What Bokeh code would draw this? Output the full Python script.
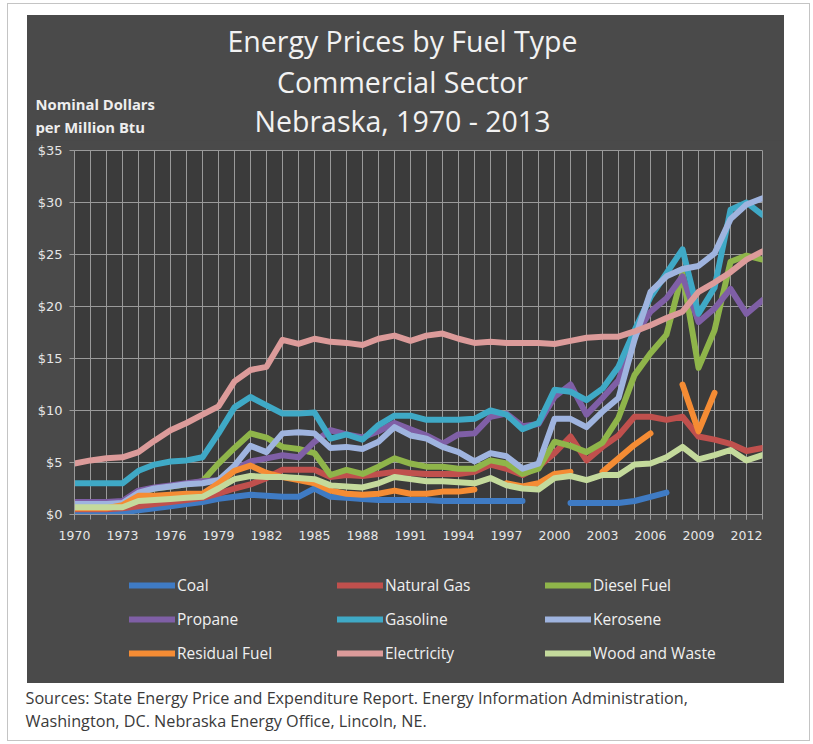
import numpy as np
from bokeh.plotting import figure
from bokeh.layouts import column
from bokeh.models import (ColumnDataSource, FixedTicker, PrintfTickFormatter, Label,
                          Legend, LegendItem)
from bokeh.embed import file_html
from bokeh.resources import INLINE

nan = float("nan")

# ---------------- data ----------------
years = list(range(1970, 2014))
x_tick_years = list(range(1970, 2014, 3))
y_ticks = [0, 5, 10, 15, 20, 25, 30, 35]

series_names = ["Coal", "Natural Gas", "Diesel Fuel", "Propane", "Gasoline",
                "Kerosene", "Residual Fuel", "Electricity", "Wood and Waste"]
series_colors = ["#3f7bc4", "#c0504d", "#8fb54a", "#7f5fa6", "#3fa9c6",
                 "#9fb4df", "#f58c34", "#dc9b9a", "#c4da9c"]

coal = [0.1, 0.1, 0.1, 0.2, 0.4, 0.6, 0.8, 1.0, 1.2, 1.5,
        1.7, 1.9, 1.8, 1.7, 1.7, 2.5, 1.7, 1.6, 1.5, 1.4,
        1.4, 1.4, 1.4, 1.3, 1.3, 1.3, 1.3, 1.3, 1.3, nan,
        nan, 1.1, 1.1, 1.1, 1.1, 1.3, 1.7, 2.1, nan, nan,
        nan, nan, nan, nan]
natural_gas = [0.5, 0.5, 0.5, 0.6, 0.8, 1.0, 1.2, 1.4, 1.6, 2.0,
               2.5, 2.9, 3.5, 4.3, 4.3, 4.3, 3.6, 3.8, 3.7, 3.9,
               4.1, 4.0, 3.9, 3.9, 3.9, 4.1, 4.8, 4.4, 3.8, 4.6,
               5.9, 7.5, 5.2, 6.5, 7.6, 9.4, 9.4, 9.1, 9.4, 7.5,
               7.2, 6.8, 6.1, 6.4]
diesel_fuel = [1.0, 1.0, 1.0, 1.1, 2.1, 2.5, 2.7, 2.9, 3.2, 4.9,
               6.4, 7.8, 7.4, 6.5, 6.3, 5.9, 3.8, 4.3, 3.9, 4.6,
               5.4, 4.9, 4.6, 4.6, 4.4, 4.4, 5.2, 4.9, 3.9, 4.4,
               7.0, 6.6, 6.0, 6.9, 9.3, 13.4, 15.5, 17.3, 23.2, 14.1,
               17.7, 24.3, 24.9, 24.5]
propane = [1.2, 1.2, 1.2, 1.3, 2.3, 2.6, 2.8, 3.0, 3.2, 3.3,
           4.3, 5.1, 5.4, 5.7, 5.5, 7.0, 8.1, 7.7, 7.4, 8.0,
           8.8, 8.2, 7.6, 6.8, 7.7, 7.8, 9.4, 9.7, 8.5, 8.7,
           11.3, 12.5, 9.6, 11.2, 12.9, 17.1, 19.5, 20.8, 22.9, 18.5,
           19.8, 21.7, 19.3, 20.6]
gasoline = [3.0, 3.0, 3.0, 3.0, 4.2, 4.8, 5.1, 5.2, 5.5, 7.8,
            10.3, 11.3, 10.5, 9.7, 9.7, 9.8, 7.3, 7.7, 7.2, 8.6,
            9.5, 9.5, 9.1, 9.1, 9.1, 9.2, 10.0, 9.6, 8.2, 8.8,
            12.0, 11.8, 11.0, 12.1, 14.2, 17.7, 20.9, 23.2, 25.5, 19.3,
            21.8, 29.3, 30.0, 28.8]
kerosene = [1.0, 1.0, 1.0, 1.1, 2.1, 2.5, 2.7, 2.9, 3.0, 3.3,
            4.7, 6.6, 6.0, 7.8, 7.9, 7.8, 6.4, 6.5, 6.3, 7.0,
            8.4, 7.6, 7.3, 6.5, 6.0, 5.1, 5.9, 5.6, 4.4, 4.9,
            9.2, 9.2, 8.4, 9.9, 11.2, 16.8, 21.4, 22.9, 23.6, 23.9,
            25.1, 28.4, 29.8, 30.4]
residual_fuel = [0.6, 0.6, 0.6, 0.9, 1.8, 1.8, 1.9, 2.0, 2.0, 3.0,
                 4.2, 4.7, 4.0, 3.6, 3.3, 3.0, 2.3, 2.0, 1.9, 2.0,
                 2.3, 2.0, 2.0, 2.2, 2.2, 2.4, nan, 3.0, 2.7, 3.0,
                 3.9, 4.1, nan, 4.1, 5.4, 6.7, 7.8, nan, 12.5, 8.0,
                 11.7, nan, nan, nan]
electricity = [4.9, 5.2, 5.4, 5.5, 6.0, 7.1, 8.1, 8.8, 9.6, 10.4,
               12.8, 13.9, 14.2, 16.8, 16.4, 16.9, 16.6, 16.5, 16.3, 16.9,
               17.2, 16.7, 17.2, 17.4, 16.9, 16.5, 16.6, 16.5, 16.5, 16.5,
               16.4, 16.7, 17.0, 17.1, 17.1, 17.6, 18.2, 18.9, 19.5, 21.4,
               22.3, 23.3, 24.5, 25.3]
wood_and_waste = [0.7, 0.7, 0.7, 0.7, 1.3, 1.4, 1.5, 1.6, 1.7, 2.5,
                  3.4, 3.7, 3.6, 3.6, 3.5, 3.4, 2.8, 2.7, 2.6, 3.0,
                  3.6, 3.4, 3.2, 3.2, 3.1, 3.0, 3.5, 2.8, 2.5, 2.4,
                  3.5, 3.7, 3.3, 3.8, 3.8, 4.8, 4.9, 5.5, 6.5, 5.3,
                  5.7, 6.2, 5.2, 5.7]

series_values = [coal, natural_gas, diesel_fuel, propane, gasoline,
                 kerosene, residual_fuel, electricity, wood_and_waste]

title_lines = ["Energy Prices by Fuel Type", "Commercial Sector", "Nebraska, 1970 - 2013"]
unit_lines = ["Nominal Dollars", "per Million Btu"]
source_lines = ["Sources:  State Energy Price and Expenditure Report.  Energy Information Administration,",
                "Washington, DC.  Nebraska Energy Office, Lincoln, NE."]

# ---------------- styling / layout ----------------
DARK = "#4a4a4a"
PLOT_BG = "#3b3b3b"
GRID = "#9a9a9a"
TXT = "#e6e6e6"
LINE_W = 6

CW = 757             # width of the dark chart area
HEAD_H, PLOT_H, LEG_H, SRC_H = 125, 408, 135, 57


def no_align(f):
    if "frame_align" in f.properties():
        f.frame_align = False
    return f


def blank_fig(w, h, bg):
    # transparent border fill: the surrounding box paints the colour
    f = figure(width=w, height=h, x_range=(0, w), y_range=(0, h),
               x_axis_type=None, y_axis_type=None, min_border=0,
               toolbar_location=None, output_backend="svg",
               background_fill_color=bg, border_fill_color=None)
    f.outline_line_color = None
    return no_align(f)


# header with the titles
hf = blank_fig(CW, HEAD_H, DARK)
for txt, yy in zip(title_lines, [100, 59, 20]):
    hf.add_layout(Label(x=375, y=yy, text=txt, text_align="center",
                        text_baseline="middle", text_color="#f2f2f2",
                        text_font="Open Sans", text_font_size="28.5px"))
for txt, yy in zip(unit_lines, [37, 14]):
    hf.add_layout(Label(x=8, y=yy, text=txt, text_align="left",
                        text_baseline="middle", text_color="#eeeeee",
                        text_font="Open Sans", text_font_size="14.8px",
                        text_font_style="bold"))

# main plot
X0, X1 = years[0], years[-1]
Y0, Y1 = y_ticks[0], y_ticks[-1]
p = figure(width=CW, height=PLOT_H, x_range=(X0, X1), y_range=(Y0, Y1),
           output_backend="svg", toolbar_location=None,
           min_border_left=47, min_border_right=22,
           min_border_top=10, min_border_bottom=34,
           background_fill_color=PLOT_BG, border_fill_color=DARK)
no_align(p)
p.outline_line_color = GRID
p.outline_line_width = 1

p.xaxis.ticker = FixedTicker(ticks=x_tick_years, minor_ticks=years)
p.xaxis.axis_line_color = GRID
p.xaxis.major_tick_line_color = GRID
p.xaxis.minor_tick_line_color = GRID
p.xaxis.major_tick_out = 5
p.xaxis.major_tick_in = 0
p.xaxis.minor_tick_out = 5
p.xaxis.minor_tick_in = 0
p.xaxis.major_label_standoff = 11
p.xaxis.major_label_text_color = TXT
p.xaxis.major_label_text_font = "DejaVu Sans"
p.xaxis.major_label_text_font_size = "12.5px"
p.xgrid.ticker = FixedTicker(ticks=years[1:-1])
p.xgrid.grid_line_color = GRID

p.yaxis.ticker = FixedTicker(ticks=y_ticks)
p.yaxis.formatter = PrintfTickFormatter(format="$%d")
p.yaxis.axis_line_color = GRID
p.yaxis.major_tick_line_color = GRID
p.yaxis.minor_tick_line_color = None
p.yaxis.major_tick_out = 5
p.yaxis.major_tick_in = 0
p.yaxis.major_label_standoff = 7
p.yaxis.major_label_text_color = TXT
p.yaxis.major_label_text_font = "DejaVu Sans"
p.yaxis.major_label_text_font_size = "13px"
p.ygrid.ticker = FixedTicker(ticks=y_ticks[1:-1])
p.ygrid.grid_line_color = GRID

for name, color, vals in zip(series_names, series_colors, series_values):
    src = ColumnDataSource(data=dict(x=np.array(years, dtype=float),
                                     y=np.array(vals, dtype=float)))
    p.line("x", "y", source=src, line_color=color, line_width=LINE_W,
           line_join="round", line_cap="round")

# legend panel (keys carry the same series, outside this panel's visible range)
lf = blank_fig(CW, LEG_H, DARK)
keys = []
for name, color, vals in zip(series_names, series_colors, series_values):
    keys.append(lf.line(x=years, y=vals, line_color=color, line_width=LINE_W,
                        line_cap="round"))
for row, vy in enumerate([87, 53, 19]):
    items = [LegendItem(label=series_names[row * 3 + k], renderers=[keys[row * 3 + k]])
             for k in range(3)]
    lf.add_layout(Legend(items=items, orientation="horizontal", location=(102, vy),
                         glyph_width=46, glyph_height=20, label_standoff=2,
                         label_width=150, label_height=20, spacing=10,
                         padding=0, margin=0, background_fill_alpha=0,
                         border_line_color=None, label_text_color="#f0f0f0",
                         label_text_font="Open Sans", label_text_font_size="15.5px"))

# sources
sf = blank_fig(801, SRC_H, "#ffffff")
for txt, yy in zip(source_lines, [43, 20]):
    sf.add_layout(Label(x=17, y=yy, text=txt, text_align="left",
                        text_baseline="middle", text_color="#3a3a3a",
                        text_font="Open Sans", text_font_size="16.2px"))

dark_box = {"background-color": DARK}
head_box = column(hf, margin=(11, 25, 0, 19), styles=dark_box)
plot_box = column(p, margin=(0, 25, 0, 19), styles=dark_box)
leg_box = column(lf, margin=(0, 25, 0, 19), styles=dark_box)
src_box = column(sf, margin=(0, 0, 0, 0))

page = column(head_box, plot_box, leg_box, src_box, spacing=0,
              styles={"border": "1px solid #c4c4c4", "background-color": "#ffffff"})
page.margin = (3, 0, 0, 7)

open("out.html", "w").write(file_html(page, INLINE))
